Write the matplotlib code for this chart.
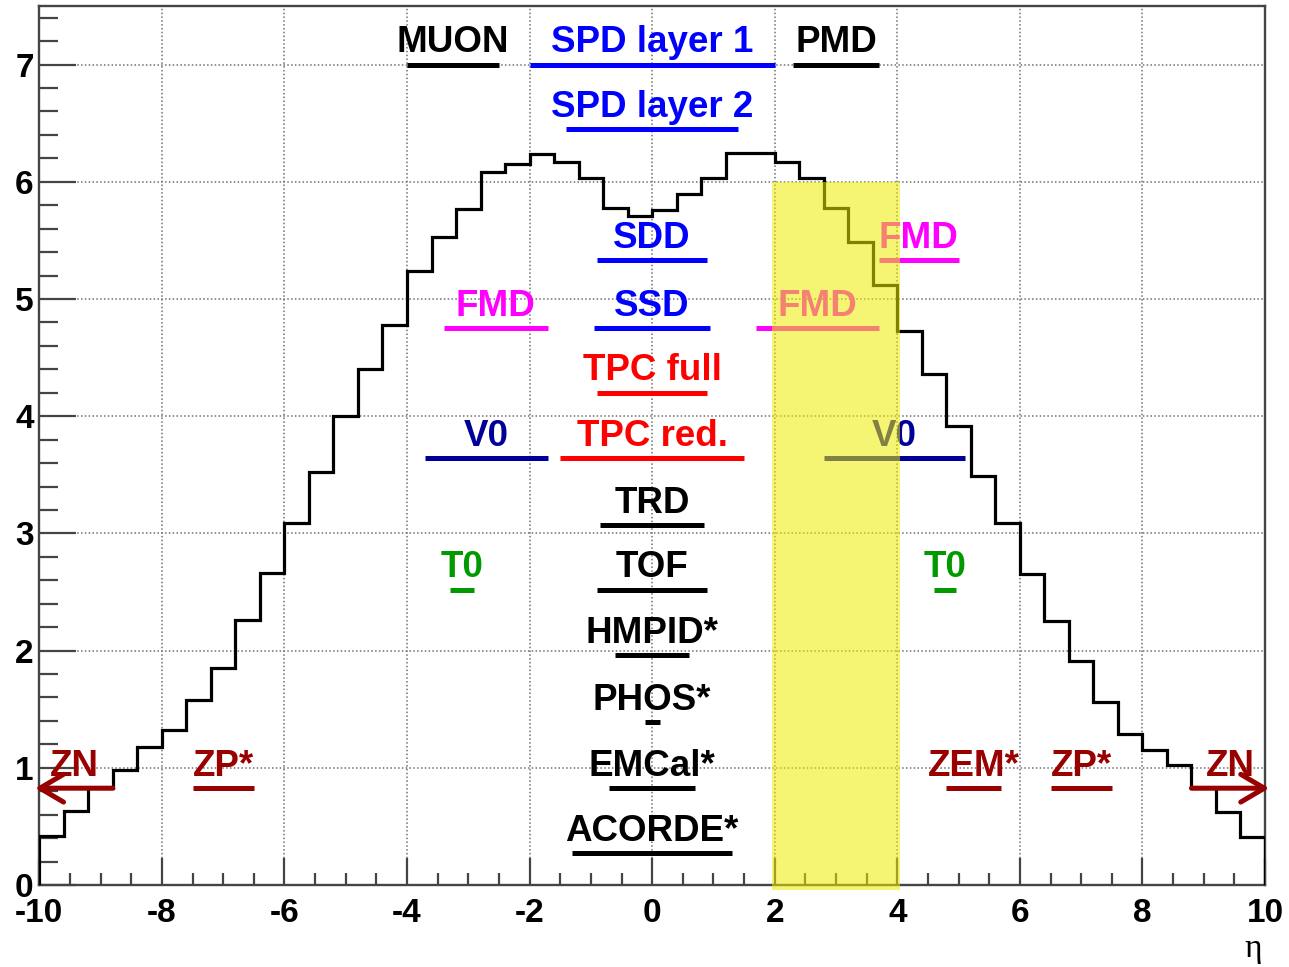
import numpy as np
import matplotlib
matplotlib.use("Agg")
import matplotlib.pyplot as plt
from matplotlib.ticker import MultipleLocator
from matplotlib.patches import Rectangle

plt.rcParams['font.family'] = ['Liberation Sans', 'DejaVu Sans']

# charged-particle pseudorapidity density, 0.4-wide bins from -10 to 10
eta_edges = np.linspace(-10.0, 10.0, 51)
dndeta = [0.42, 0.635, 0.83, 0.98, 1.18, 1.32, 1.58, 1.85, 2.26, 2.66,
          3.09, 3.52, 4.00, 4.40, 4.78, 5.24, 5.53, 5.77, 6.08, 6.15,
          6.24, 6.17, 6.03, 5.78, 5.71, 5.76, 5.90, 6.03, 6.25, 6.25,
          6.17, 6.03, 5.78, 5.49, 5.12, 4.73, 4.36, 3.92, 3.49, 3.09,
          2.65, 2.25, 1.91, 1.56, 1.29, 1.15, 1.02, 0.83, 0.62, 0.41]

# detector acceptances in eta and the row each one is drawn on
detectors = ['MUON', 'SPD layer 1', 'PMD', 'SPD layer 2', 'SDD', 'FMD',
             'FMD', 'SSD', 'FMD', 'TPC full', 'V0', 'TPC red.', 'V0',
             'TRD', 'T0', 'TOF', 'T0', 'HMPID*', 'PHOS*', 'EMCal*',
             'ACORDE*', 'ZP*', 'ZEM*', 'ZP*']
eta_lo = [-4.0, -2.0, 2.3, -1.4, -0.9, 3.7,
          -3.4, -0.95, 1.7, -0.9, -3.7, -1.5, 2.8,
          -0.85, -3.3, -0.9, 4.6, -0.6, -0.12, -0.7,
          -1.3, -7.5, 4.8, 6.5]
eta_hi = [-2.5, 2.0, 3.7, 1.4, 0.9, 5.0,
          -1.7, 0.95, 3.7, 0.9, -1.7, 1.5, 5.1,
          0.85, -2.9, 0.9, 4.95, 0.6, 0.12, 0.7,
          1.3, -6.5, 5.7, 7.5]
rows = [7.0, 7.0, 7.0, 6.45, 5.33, 5.33,
        4.75, 4.75, 4.75, 4.20, 3.64, 3.64, 3.64,
        3.07, 2.52, 2.52, 2.52, 1.96, 1.39, 0.826,
        0.27, 0.826, 0.826, 0.826]
colours = ['black', 'blue', 'black', 'blue', 'blue', 'magenta',
           'magenta', 'blue', 'magenta', 'red', '#000099', 'red', '#000099',
           'black', '#009900', 'black', '#009900', 'black', 'black', 'black',
           'black', '#990000', '#990000', '#990000']

# zero-degree neutron calorimeters, drawn as arrows pointing outwards
zn_start = [-8.8, 8.8]
zn_tip = [-10.07, 10.07]
zn_row = 0.826

# highlighted acceptance window
band_eta = (1.96, 4.05)
band_top = 6.0

fig = plt.figure(figsize=(12.89, 9.67), dpi=100)
ax = fig.add_axes([39.3 / 1289, 82 / 967, (1265 - 39.3) / 1289, 879 / 967])
ax.set_xlim(-10, 10)
ax.set_ylim(0, 7.5)

ax.stairs(dndeta, eta_edges, color='black', lw=2.3, zorder=3)

for name, lo, hi, y, c in zip(detectors, eta_lo, eta_hi, rows, colours):
    ax.plot([lo, hi], [y, y], color=c, lw=3.6, solid_capstyle='butt', zorder=4)
    ax.annotate(name, xy=(0.5 * (lo + hi), y), xytext=(0, 9),
                textcoords='offset points', ha='center', va='baseline',
                color=c, fontsize=26.5, fontweight='bold', zorder=5)

for start, tip in zip(zn_start, zn_tip):
    ax.annotate('', xy=(tip, zn_row), xytext=(start, zn_row),
                arrowprops=dict(arrowstyle='->,head_length=0.85,head_width=0.5',
                                mutation_scale=20, color='#990000', lw=3.6,
                                shrinkA=0, shrinkB=0),
                annotation_clip=False, zorder=5)
    ax.annotate('ZN', xy=(0.5 * (start + tip), zn_row), xytext=(0, 9),
                textcoords='offset points', ha='center', va='baseline',
                color='#990000', fontsize=26.5, fontweight='bold', zorder=5)

ax.add_patch(Rectangle((band_eta[0], -0.04), band_eta[1] - band_eta[0],
                       band_top + 0.04, facecolor=(0.93, 0.93, 0.0),
                       alpha=0.55, edgecolor='none', zorder=10, clip_on=False))

ax.xaxis.set_major_locator(MultipleLocator(2))
ax.xaxis.set_minor_locator(MultipleLocator(0.5))
ax.yaxis.set_major_locator(MultipleLocator(1))
ax.yaxis.set_minor_locator(MultipleLocator(0.2))
ax.grid(True, which='major', color='#707070', lw=1.1, linestyle=(0, (1, 1.5)))
ax.set_axisbelow(True)

ax.tick_params(which='both', direction='in', top=False, right=False,
               color='#444444', width=1.6)
ax.tick_params(axis='x', which='major', length=19.5, pad=9, labelsize=24)
ax.tick_params(axis='x', which='minor', length=8.6)
ax.tick_params(axis='y', which='major', length=26.6, pad=4, labelsize=24)
ax.tick_params(axis='y', which='minor', length=13.7)
ax.set_xticks(np.arange(-10, 11, 2))
ax.set_xticklabels([str(v) for v in range(-10, 11, 2)], fontweight='bold')
ax.set_yticks(np.arange(0, 8, 1))
ax.set_yticklabels([str(v) for v in range(0, 8)], fontweight='bold')

for sp in ax.spines.values():
    sp.set_color('#444444')
    sp.set_linewidth(1.7)

fig.text(1262 / 1289, 1 - 957 / 967, 'η', ha='right', va='baseline',
         fontsize=24, family=['Liberation Serif', 'DejaVu Serif'])

fig.savefig('out.png', dpi=100)
